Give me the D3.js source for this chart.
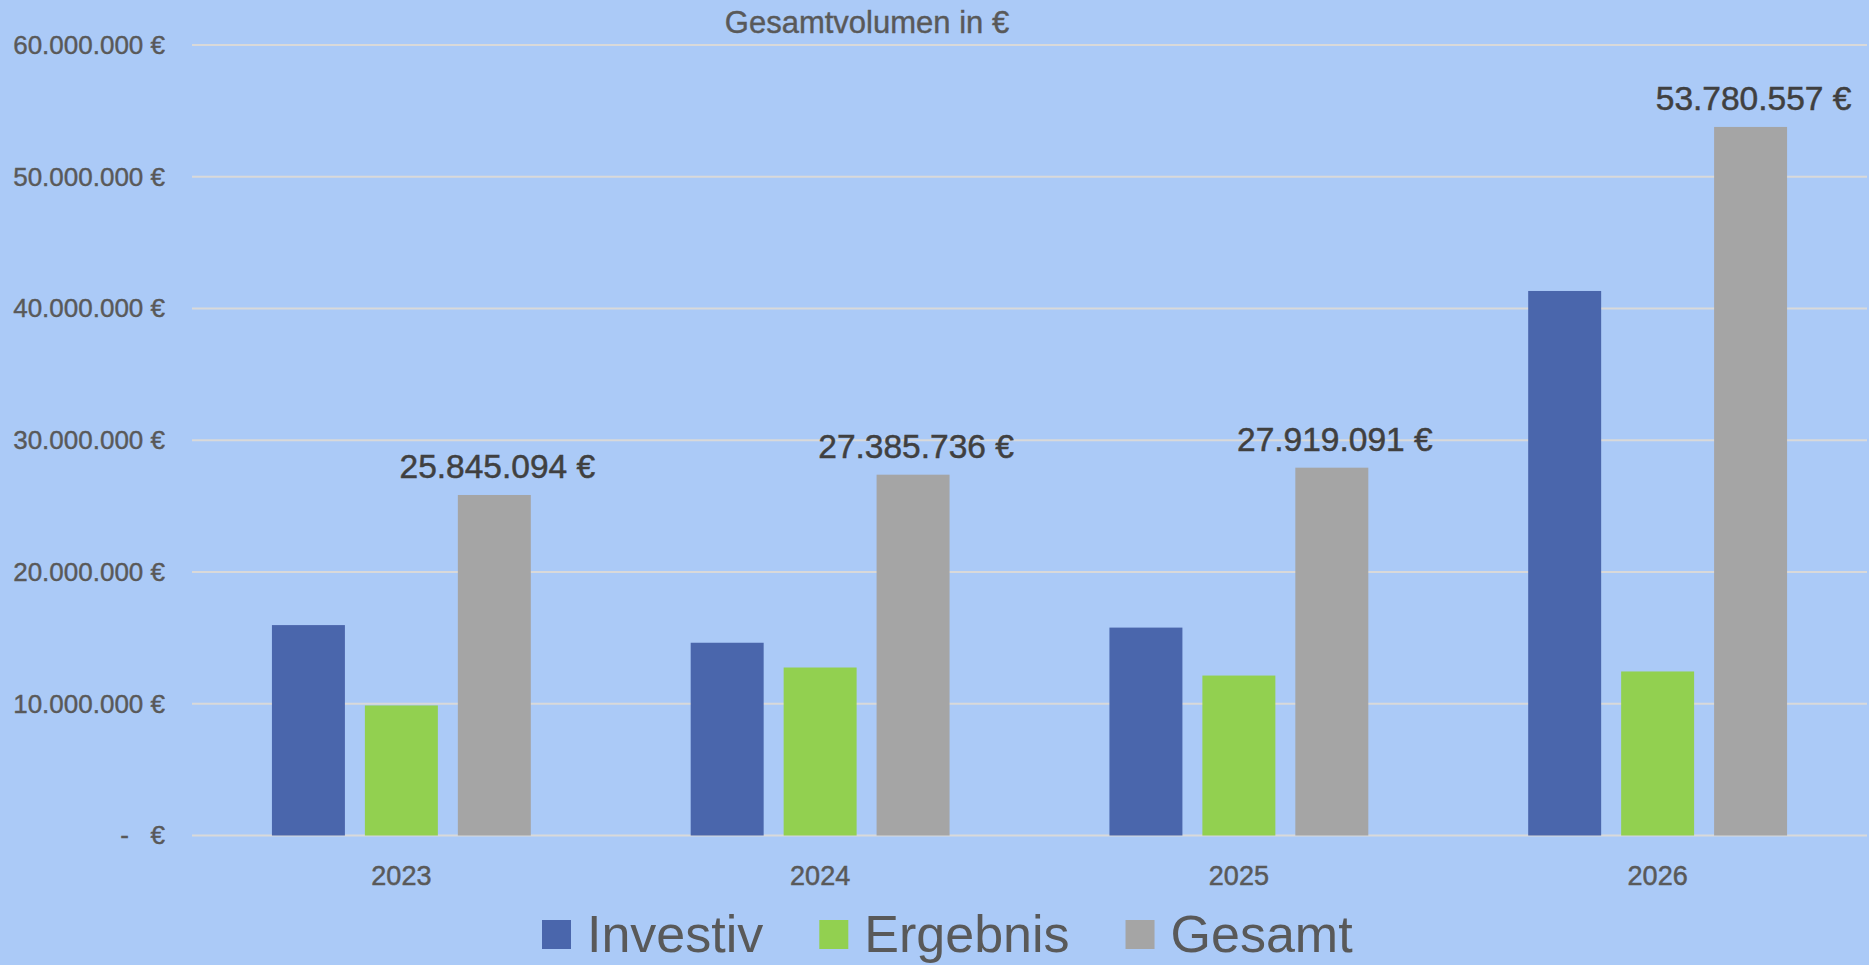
<!DOCTYPE html>
<html>
<head>
<meta charset="utf-8">
<style>
  body { margin: 0; background: #abcaf7; }
  .yAxis .domain, .xAxis .domain, .xAxis .tick line, .yAxis .tick line { display: none; }
  .yAxis text { font-family: "Liberation Sans Narrow", "Arial Narrow", "Liberation Sans", Arial, sans-serif; font-size: 26px; fill: #595959; stroke: #595959; stroke-width: 0.4px; }
  .xAxis text { font-family: "Liberation Sans", Arial, sans-serif; font-size: 27px; fill: #595959; stroke: #595959; stroke-width: 0.5px; }
  .grid line { stroke: #d9d9d9; stroke-width: 2px; }
</style>
</head>
<body>
<div class="chart"></div>
<script src="https://d3js.org/d3.v7.min.js"></script>
<script>
  // Werte
  const years = ['2023', '2024', '2025', '2026'];
  const seriesNames = ['Investiv', 'Ergebnis', 'Gesamt'];
  const investiv = [15970000, 14630000, 15780000, 41330000];
  const ergebnis = [9870000, 12750000, 12140000, 12450000];
  const gesamt = [25845094, 27385736, 27919091, 53780557];
  const yTicks = [0, 10000000, 20000000, 30000000, 40000000, 50000000, 60000000];
  const colors = ['#4a66ac', '#92d050', '#a5a5a5'];

  const values = { Investiv: investiv, Ergebnis: ergebnis, Gesamt: gesamt };
  const rows = years.map((y, i) => ({ year: y, vals: seriesNames.map(s => ({ key: s, value: values[s][i] })) }));

  const svgWidth = 1869,
        svgHeight = 965,
        plotLeft = 192,
        plotRight = 1867,
        plotTop = 45,
        plotBottom = 835.5;

  const de = d3.formatLocale({ decimal: ',', thousands: '.', grouping: [3], currency: ['', ' €'] });
  const fmt = de.format(',.0f');
  const euro = d => d === 0 ? '-\u00a0\u00a0\u00a0€' : fmt(d) + ' €';

  const svg = d3.select('.chart')
                .append('svg')
                .attr('width', svgWidth)
                .attr('height', svgHeight);

  svg.append('rect')
     .attr('width', svgWidth)
     .attr('height', svgHeight)
     .attr('fill', '#abcaf7');

  const x0 = d3.scaleBand()
               .domain(years)
               .range([plotLeft, plotRight]);

  const x1 = d3.scaleBand()
               .domain(seriesNames)
               .range([0, x0.bandwidth()])
               .paddingInner(0.215)
               .paddingOuter(0.86);

  const yScale = d3.scaleLinear()
                   .domain([0, 60000000])
                   .range([plotBottom, plotTop]);

  // Gitterlinien
  svg.append('g')
     .attr('class', 'grid')
     .selectAll('line')
     .data(yTicks)
     .join('line')
     .attr('x1', plotLeft)
     .attr('x2', plotRight)
     .attr('y1', d => yScale(d))
     .attr('y2', d => yScale(d));

  const yAxis = d3.axisLeft(yScale)
                  .tickValues(yTicks)
                  .tickSize(0)
                  .tickPadding(plotLeft - 165)
                  .tickFormat(euro);
  svg.append('g')
     .attr('class', 'yAxis')
     .attr('transform', `translate(${plotLeft}, 0)`)
     .call(yAxis);

  const xAxis = d3.axisBottom(x0)
                  .tickSize(0)
                  .tickPadding(30);
  svg.append('g')
     .attr('class', 'xAxis')
     .attr('transform', `translate(0, ${plotBottom})`)
     .call(xAxis);

  // Balken
  const groups = svg.append('g')
                    .selectAll('g')
                    .data(rows)
                    .join('g')
                    .attr('transform', d => `translate(${x0(d.year)}, 0)`);

  groups.selectAll('rect')
        .data(d => d.vals)
        .join('rect')
        .attr('x', d => x1(d.key))
        .attr('y', d => yScale(d.value))
        .attr('width', x1.bandwidth())
        .attr('height', d => plotBottom - yScale(d.value))
        .attr('fill', (d, i) => colors[i]);

  // Datenbeschriftung nur für Gesamt
  groups.append('text')
        .attr('x', x1('Gesamt') + x1.bandwidth() / 2 + 3)
        .attr('y', d => yScale(d.vals[2].value) - 17)
        .attr('text-anchor', 'middle')
        .attr('font-family', '"Liberation Sans", Arial, sans-serif')
        .attr('font-size', 33.5)
        .attr('fill', '#404040')
        .attr('stroke', '#404040')
        .attr('stroke-width', 0.5)
        .text(d => fmt(d.vals[2].value) + ' €');

  // Titel
  svg.append('text')
     .attr('x', 867)
     .attr('y', 32.5)
     .attr('text-anchor', 'middle')
     .attr('font-family', '"Liberation Sans", Arial, sans-serif')
     .attr('font-size', 31)
     .attr('fill', '#595959')
     .attr('stroke', '#595959')
     .attr('stroke-width', 0.4)
     .text('Gesamtvolumen in €');

  // Legende
  const legend = svg.append('g')
                    .attr('transform', 'translate(542, 0)');
  let offset = 0;
  seriesNames.forEach((s, i) => {
    const item = legend.append('g').attr('transform', `translate(${offset}, 0)`);
    item.append('rect')
        .attr('x', 0)
        .attr('y', 920)
        .attr('width', 29)
        .attr('height', 29)
        .attr('fill', colors[i]);
    const t = item.append('text')
        .attr('x', 45)
        .attr('y', 951.5)
        .attr('font-family', '"Liberation Sans", Arial, sans-serif')
        .attr('font-size', 52)
        .attr('fill', '#595959')
        .text(s);
    offset += 45 + t.node().getComputedTextLength() + 56;
  });
</script>
</body>
</html>
